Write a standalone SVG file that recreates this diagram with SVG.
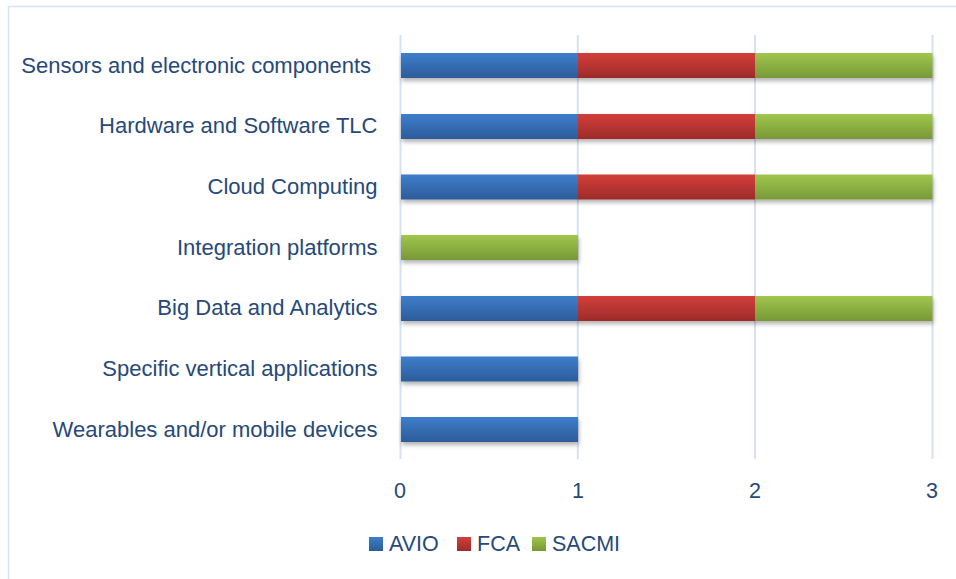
<svg xmlns="http://www.w3.org/2000/svg" width="956" height="579" viewBox="0 0 956 579">
<defs>
<linearGradient id="gB" x1="0" y1="0" x2="0" y2="1"><stop offset="0" stop-color="#3e7ecb"/><stop offset="1" stop-color="#2c5c9a"/></linearGradient>
<linearGradient id="gR" x1="0" y1="0" x2="0" y2="1"><stop offset="0" stop-color="#d33f3b"/><stop offset="1" stop-color="#9c2b2a"/></linearGradient>
<linearGradient id="gG" x1="0" y1="0" x2="0" y2="1"><stop offset="0" stop-color="#a0c64c"/><stop offset="1" stop-color="#789837"/></linearGradient>
<filter id="sh" x="-5%" y="-30%" width="110%" height="180%"><feDropShadow dx="1" dy="3" stdDeviation="2" flood-color="#000" flood-opacity="0.3"/></filter>
</defs>
<style>
.lbl{font-family:"Liberation Sans",Arial,sans-serif;font-size:21.5px;fill:#26497a}
.cat{text-anchor:end;font-size:22px}
.tick{text-anchor:middle}
.grid{stroke:#d5e2f3;stroke-width:2}
.b{fill:url(#gB)}
.r{fill:url(#gR)}
.g{fill:url(#gG)}
</style>
<rect x="0" y="0" width="956" height="579" fill="#fff"/>
<rect x="8.5" y="6.5" width="960" height="600" fill="none" stroke="#d7e3f3" stroke-width="1.5"/>
<g id="gridlines">
<line class="grid" x1="400.5" y1="35" x2="400.5" y2="459"/>
<line class="grid" x1="577.8" y1="35" x2="577.8" y2="459"/>
<line class="grid" x1="755" y1="35" x2="755" y2="459"/>
<line class="grid" x1="932.5" y1="35" x2="932.5" y2="459"/>
</g>
<g id="cat-sensors">
<g filter="url(#sh)"><rect class="b" x="401" y="53" width="177" height="25"/><rect class="r" x="578" y="53" width="177" height="25"/><rect class="g" x="755" y="53" width="177.5" height="25"/></g>
<text class="lbl cat" x="371" y="73">Sensors and electronic components</text>
</g>
<g id="cat-hardware">
<g filter="url(#sh)"><rect class="b" x="401" y="114" width="177" height="25"/><rect class="r" x="578" y="114" width="177" height="25"/><rect class="g" x="755" y="114" width="177.5" height="25"/></g>
<text class="lbl cat" x="377.5" y="133">Hardware and Software TLC</text>
</g>
<g id="cat-cloud">
<g filter="url(#sh)"><rect class="b" x="401" y="174.5" width="177" height="25"/><rect class="r" x="578" y="174.5" width="177" height="25"/><rect class="g" x="755" y="174.5" width="177.5" height="25"/></g>
<text class="lbl cat" x="377.5" y="194">Cloud Computing</text>
</g>
<g id="cat-integration">
<g filter="url(#sh)"><rect class="g" x="401" y="235" width="177" height="25"/></g>
<text class="lbl cat" x="377.5" y="254.5">Integration platforms</text>
</g>
<g id="cat-bigdata">
<g filter="url(#sh)"><rect class="b" x="401" y="296" width="177" height="25"/><rect class="r" x="578" y="296" width="177" height="25"/><rect class="g" x="755" y="296" width="177.5" height="25"/></g>
<text class="lbl cat" x="377.5" y="315">Big Data and Analytics</text>
</g>
<g id="cat-specific">
<g filter="url(#sh)"><rect class="b" x="401" y="356.5" width="177" height="25"/></g>
<text class="lbl cat" x="377.5" y="376">Specific vertical applications</text>
</g>
<g id="cat-wearables">
<g filter="url(#sh)"><rect class="b" x="401" y="417" width="177" height="25"/></g>
<text class="lbl cat" x="377.5" y="437">Wearables and/or mobile devices</text>
</g>
<g id="axis-ticks">
<text class="lbl tick" x="400" y="498">0</text>
<text class="lbl tick" x="578" y="498">1</text>
<text class="lbl tick" x="755" y="498">2</text>
<text class="lbl tick" x="932" y="498">3</text>
</g>
<g id="legend">
<rect class="b" x="369" y="537" width="14" height="14"/>
<text class="lbl" x="389" y="551">AVIO</text>
<rect class="r" x="457" y="537" width="14" height="14"/>
<text class="lbl" x="477" y="551">FCA</text>
<rect class="g" x="532" y="537" width="14" height="14"/>
<text class="lbl" x="552" y="551">SACMI</text>
</g>
<g id="connectors"/>
</svg>
